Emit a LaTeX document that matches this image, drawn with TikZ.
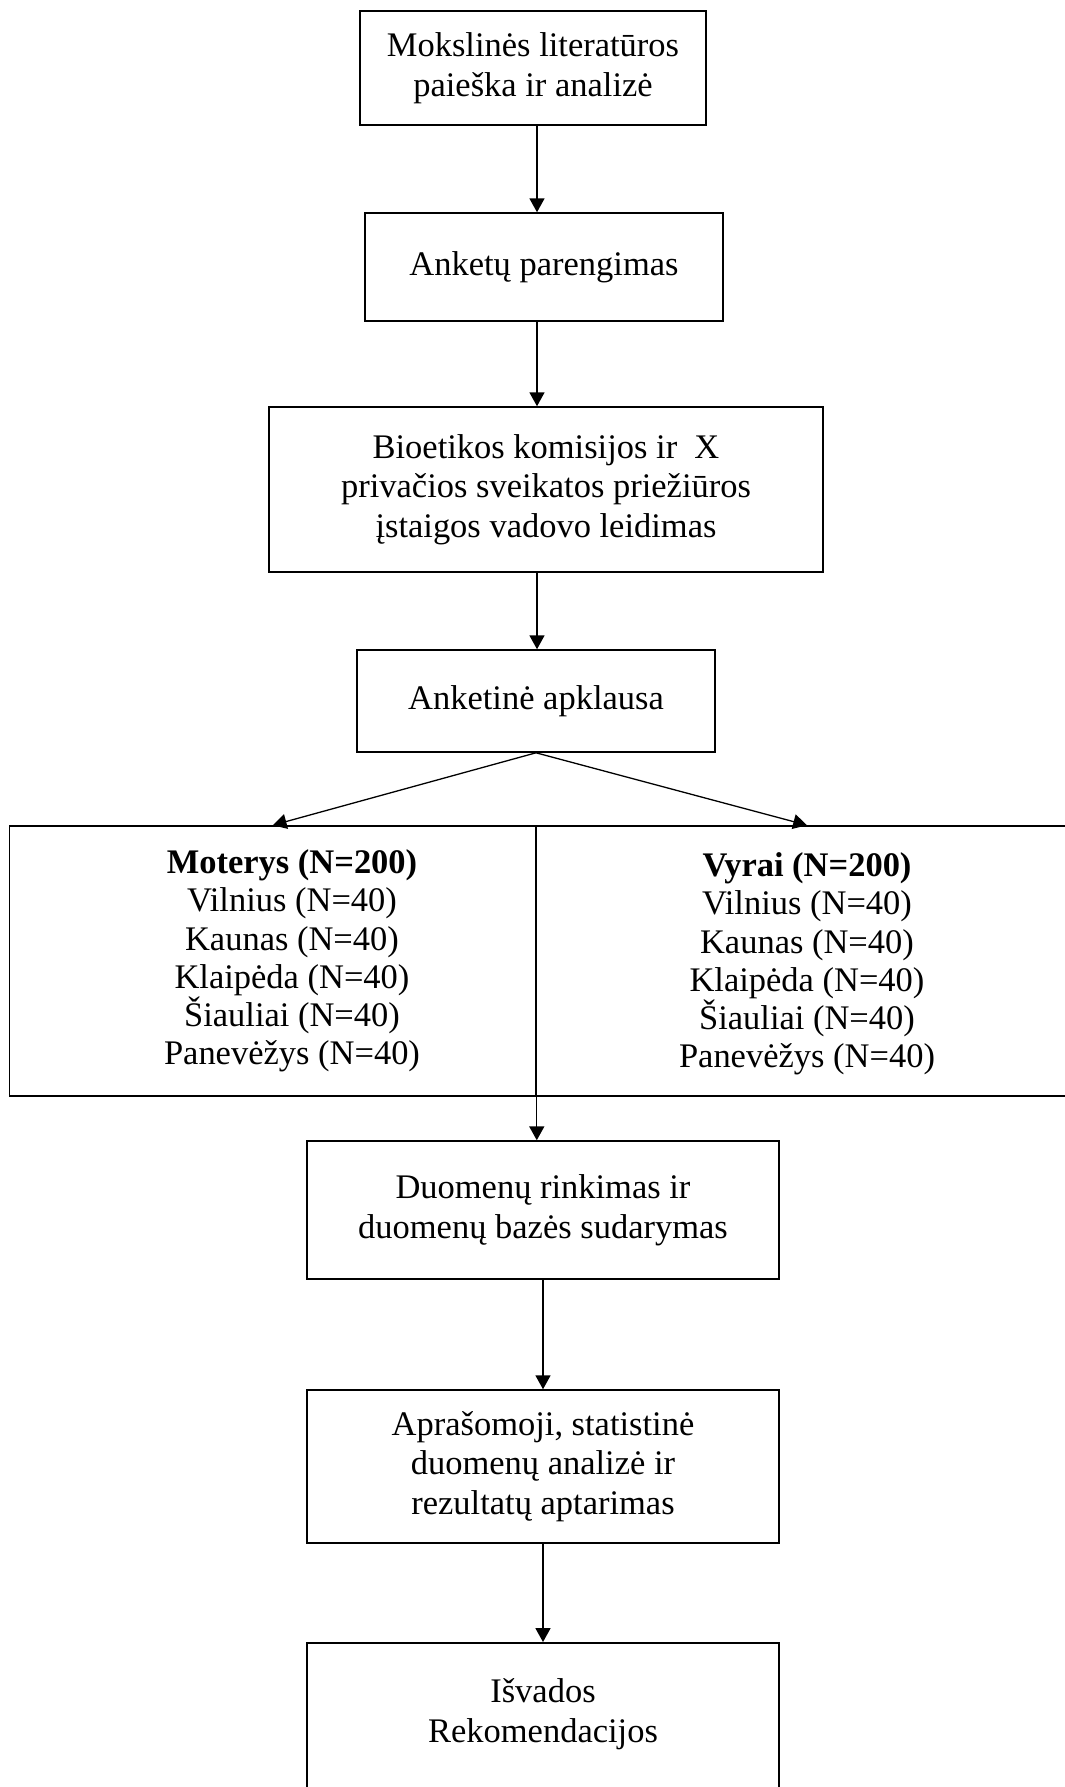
\documentclass[tikz,border=0pt]{standalone}
\usepackage{fontspec}
\setmainfont{Liberation Serif}
\usetikzlibrary{arrows.meta, positioning}
\newcommand{\pxu}{0.348pt}
\tikzstyle{process} = [rectangle, inner sep=0pt, align=center, draw=black, line width=0.55pt, font=\fontsize{12}{13.8}\selectfont]
\tikzstyle{group} = [process, minimum height=270*\pxu, font=\fontsize{12}{13.3}\selectfont]
\tikzstyle{list} = [align=center, inner sep=0pt, font=\fontsize{12}{13.3}\selectfont]
\tikzstyle{arrow} = [line width=0.45pt, -{Triangle[length=4.8pt, width=5.2pt]}]

\begin{document}
\begin{tikzpicture}[x=\pxu, y=-\pxu]
      \useasboundingbox (0,0) rectangle (1064,1787);
      \coordinate (spine) at (537,0);

      \node (lit)      [process, minimum width=346*\pxu, minimum height=114*\pxu] at (533,68)    {Mokslinės literatūros\\paieška ir analizė};
      \node (prep)     [process, minimum width=358*\pxu, minimum height=108*\pxu] at (544,267)   {Anketų parengimas};
      \node (bio)      [process, minimum width=554*\pxu, minimum height=165*\pxu] at (546,489.5) {Bioetikos komisijos ir\ \ X\\privačios sveikatos priežiūros\\įstaigos vadovo leidimas};
      \node (survey)   [process, minimum width=358*\pxu, minimum height=102*\pxu] at (536,701)   {Anketinė apklausa};

      \node (women)    [group, minimum width=526.5*\pxu] at (272.75,961) {};
      \node (womenlist) [list] at (292,961) {\textbf{Moterys (N=200)}\\Vilnius (N=40)\\Kaunas (N=40)\\Klaipėda (N=40)\\Šiauliai (N=40)\\Panevėžys (N=40)};
      \node (men)      [group, minimum width=542*\pxu]   at (807,961)    {};
      \node (menlist)  [list] at (807,964) {\textbf{Vyrai (N=200)}\\Vilnius (N=40)\\Kaunas (N=40)\\Klaipėda (N=40)\\Šiauliai (N=40)\\Panevėžys (N=40)};

      \node (collect)  [process, minimum width=472*\pxu, minimum height=138*\pxu] at (543,1210)   {Duomenų rinkimas ir\\duomenų bazės sudarymas};
      \node (analysis) [process, minimum width=472*\pxu, minimum height=153*\pxu] at (543,1466.5) {Aprašomoji, statistinė\\duomenų analizė ir\\rezultatų aptarimas};
      \node (concl)    [process, minimum width=472*\pxu, anchor=north, inner ysep=36*\pxu, text depth=200*\pxu] at (543,1642) {Išvados\\Rekomendacijos};

      \draw [arrow] (spine |- lit.south)    -- (spine |- prep.north);
      \draw [arrow] (spine |- prep.south)   -- (spine |- bio.north);
      \draw [arrow] (spine |- bio.south)    -- (spine |- survey.north);
      \draw [arrow] (survey.south)          -- (women.north);
      \draw [arrow] (survey.south)          -- (men.north);
      \draw [arrow] (women.north east)      -- (women.north east |- collect.north);
      \draw [arrow] (collect.south)         -- (analysis.north);
      \draw [arrow] (analysis.south)        -- (concl.north);
\end{tikzpicture}
\end{document}
